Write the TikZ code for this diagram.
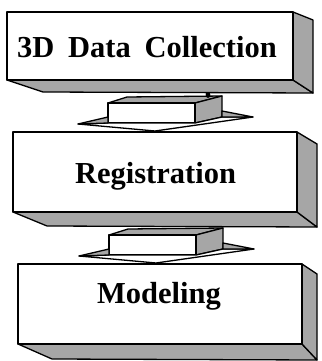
\documentclass[tikz,border=0pt]{standalone}
\usepackage{fontspec}
\setmainfont{Liberation Serif}
\begin{document}
\begin{tikzpicture}[x=1pt,y=-1pt,
  edge/.style={draw=black,line width=1.3pt,line join=round},
  face/.style={edge,fill=white},
  shade/.style={edge,fill=black!35},
  label/.style={inner sep=0pt,anchor=base,font=\fontsize{30.5}{30}\selectfont\bfseries},
  blockarrow/.pic={
    % shaft: top and right faces shaded, front face white
    \path[shade] (108,103) -- (195,103) -- (222,96) -- (127,97) -- cycle;
    \path[shade] (195,103) -- (222,96) -- (222,117) -- (195,123) -- cycle;
    \path[face]  (108,103) rectangle (195,123);
    % flat arrow head with its two shaded wings
    \path[face]  (78,124) -- (108,123) -- (195,123) -- (222,117) -- (253,117) -- (155,131) -- cycle;
    \path[shade] (78,124) -- (108,117) -- (108,123) -- cycle;
    \path[shade] (222,111) -- (253,117) -- (222,117) -- cycle;
  }]
\useasboundingbox (0,0) rectangle (321,361);

% first slab
\path[shade] (7,80) -- (293,80) -- (313,93) -- (43,92) -- cycle;
\path[shade] (293,12) -- (313,20) -- (313,93) -- (293,80) -- cycle;
\path[face] (7,12) rectangle (293,80);
\node[label] (collect) at (147,58) {3D\hspace{0.45em}Data\hspace{0.45em}Collection};

% second slab
\path[shade] (13,212) -- (297,212) -- (317,227) -- (47,226) -- cycle;
\path[shade] (297,132) -- (317,144) -- (317,227) -- (297,212) -- cycle;
\path[face] (13,132) rectangle (297,212);
\node[label] (register) at (155.5,183) {Registration};

% third slab
\path[shade] (18,344) -- (302,344) -- (317,360) -- (52,359) -- cycle;
\path[shade] (302,264) -- (317,274) -- (317,360) -- (302,344) -- cycle;
\path[face] (18,264) rectangle (302,344);
\node[label] (model) at (159,303) {Modeling};

% block arrows between the slabs
\pic at (0,0) {blockarrow};
\pic at (1,132) {blockarrow};
\fill[black] (208,95) ellipse (2.4pt and 3pt);
\end{tikzpicture}
\end{document}
